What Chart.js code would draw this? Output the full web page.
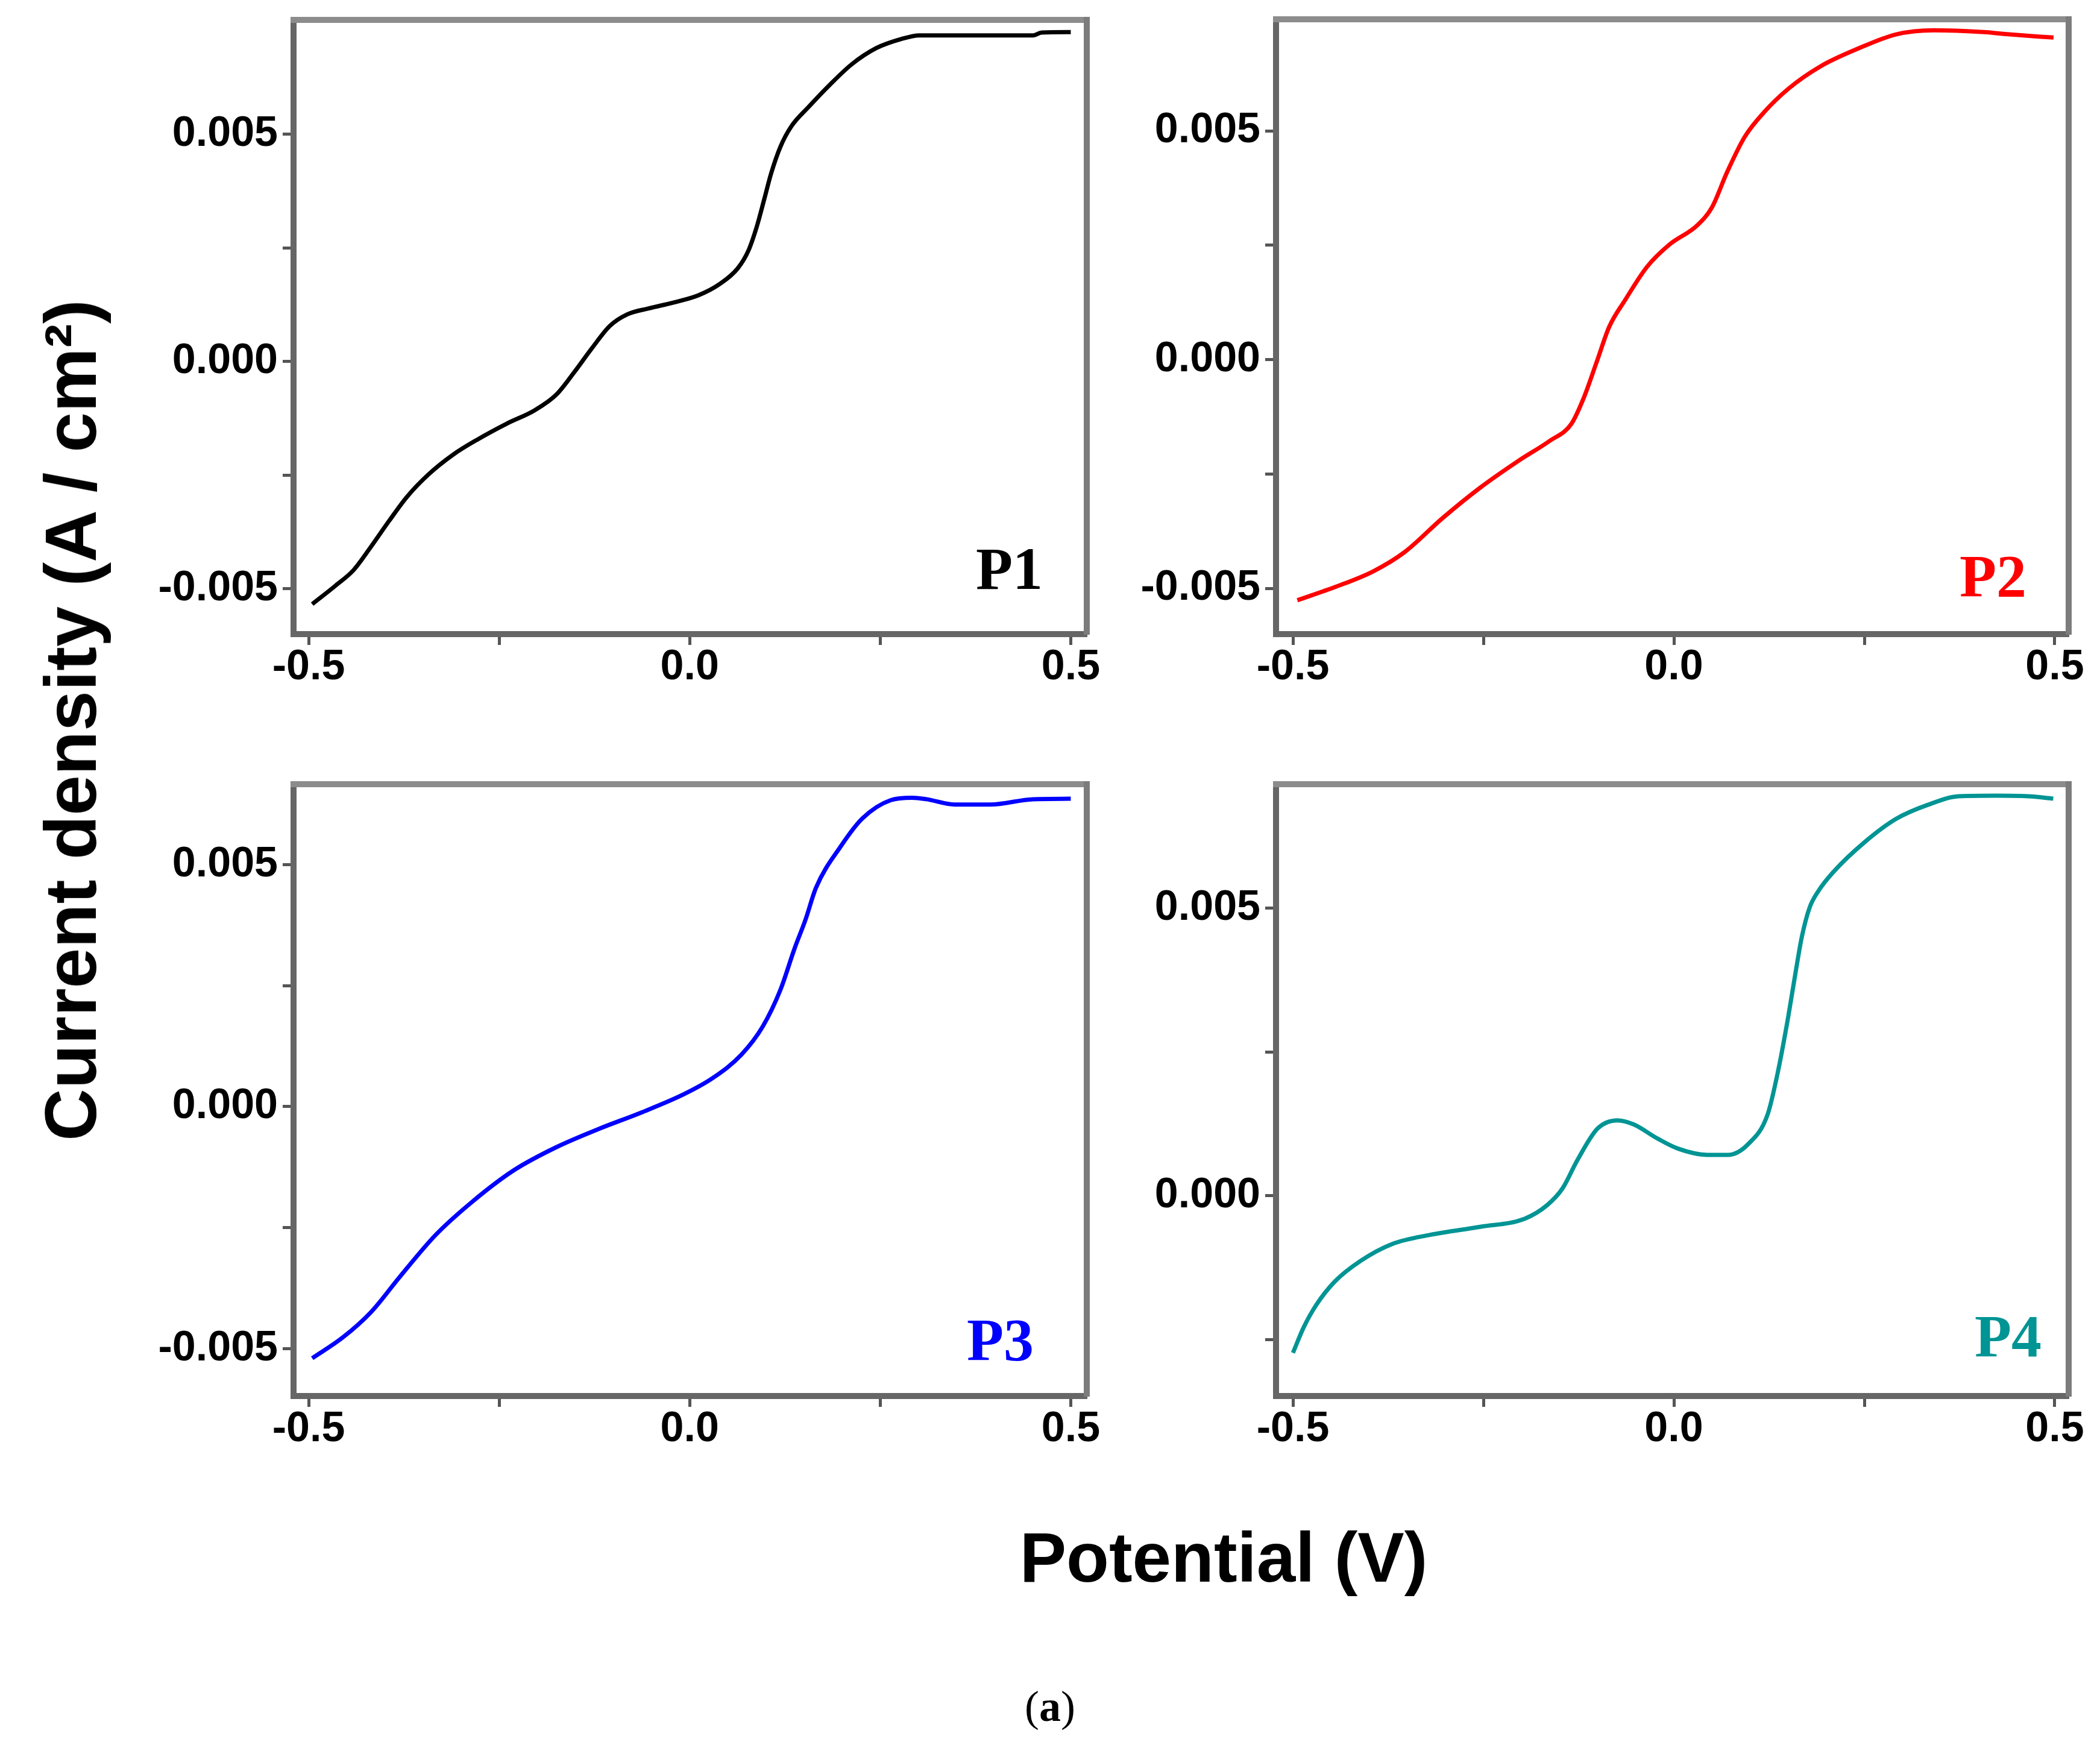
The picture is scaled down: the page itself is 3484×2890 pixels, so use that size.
<!DOCTYPE html>
<html><head><meta charset="utf-8">
<script src="https://cdn.jsdelivr.net/npm/chart.js@4.4.1/dist/chart.umd.min.js"></script>
<style>
html,body{margin:0;padding:0;background:#fff;}
body{width:3484px;height:2890px;position:relative;overflow:hidden;}
canvas{position:absolute;}
.lbl{position:absolute;white-space:nowrap;line-height:1;color:#000;}
</style></head><body>
<div id="wrap"></div>
<div class="lbl" style="font:bold 116px 'Liberation Sans',Arial,sans-serif;left:2030px;top:2584px;transform:translate(-50%,-50%);">Potential (V)</div>
<div class="lbl" style="font:bold 120px 'Liberation Sans',Arial,sans-serif;left:117px;top:1195px;transform:translate(-50%,-50%) rotate(-90deg);">Current density (A / cm²)</div>
<div class="lbl" style="font:72px 'Liberation Serif','Times New Roman',serif;left:1742px;top:2831px;transform:translate(-50%,-50%);">(<b>a</b>)</div>
<script>
// ---- tick values ----
const xTickVals = [-0.5, -0.25, 0, 0.25, 0.5];
const yTickVals = [-0.005, -0.0025, 0, 0.0025, 0.005];
const yTickValsP4 = [-0.0025, 0, 0.0025, 0.005];

// ---- series: potential (V) and current density (A/cm2) ----
const p1V = [-0.4953,-0.4645,-0.441,-0.4179,-0.3945,-0.3711,-0.3431,-0.3105,-0.2778,-0.2404,-0.2031,-0.1751,-0.1517,-0.1284,-0.105,-0.0817,-0.0537,-0.021,0.0117,0.0397,0.063,0.077,0.0882,0.0976,0.107,0.1191,0.1331,0.1564,0.1844,0.2124,0.245,0.2778,0.3011,0.3571,0.4505,0.4617,0.5];
const p1J = [-0.00534,-0.00493,-0.00459,-0.00407,-0.00351,-0.00298,-0.00249,-0.00205,-0.00171,-0.00137,-0.00107,-0.00073,-0.00024,0.00029,0.00078,0.00104,0.00117,0.0013,0.00146,0.00171,0.00205,0.00244,0.00298,0.00356,0.00415,0.00473,0.00517,0.00561,0.0061,0.00654,0.0069,0.0071,0.00718,0.00718,0.00718,0.00724,0.00725];

const p2V = [-0.4942,-0.4446,-0.3949,-0.3536,-0.304,-0.2543,-0.2047,-0.1634,-0.1344,-0.1179,-0.1013,-0.0848,-0.0641,-0.0352,-0.0062,0.031,0.05,0.0699,0.093,0.1179,0.1509,0.1923,0.2419,0.2916,0.3412,0.4074,0.4405,0.4984];
const p2J = [-0.00526,-0.00497,-0.00463,-0.00421,-0.00347,-0.0028,-0.00222,-0.00178,-0.0014,-0.00082,-0.00005,0.00072,0.0013,0.00203,0.00251,0.00294,0.00333,0.0041,0.00487,0.0054,0.00593,0.00641,0.0068,0.00711,0.0072,0.00716,0.00711,0.00704];

const p3V = [-0.4953,-0.4552,-0.4178,-0.3805,-0.3338,-0.2871,-0.2311,-0.1751,-0.119,-0.063,-0.007,0.0303,0.0677,0.0957,0.119,0.1377,0.1517,0.1657,0.1984,0.2264,0.2638,0.2918,0.3105,0.3478,0.3945,0.4505,0.5];
const p3J = [-0.0052,-0.00477,-0.00424,-0.00352,-0.00266,-0.00199,-0.00132,-0.00084,-0.00046,-0.00012,0.00026,0.00059,0.00107,0.00165,0.00241,0.00327,0.00385,0.00452,0.00538,0.00595,0.00633,0.00638,0.00635,0.00624,0.00624,0.00635,0.00636];

const p4V = [-0.5,-0.486,-0.469,-0.445,-0.411,-0.37,-0.32,-0.254,-0.196,-0.166,-0.146,-0.127,-0.1,-0.074,-0.053,-0.021,0.005,0.044,0.071,0.097,0.123,0.137,0.15,0.16,0.168,0.178,0.19,0.209,0.251,0.292,0.333,0.374,0.424,0.465,0.498];
const p4J = [-0.00273,-0.00229,-0.00189,-0.00149,-0.00113,-0.00084,-0.00068,-0.00054,-0.0004,-0.00016,0.00013,0.00061,0.00117,0.00131,0.00124,0.00099,0.00082,0.00071,0.00071,0.00089,0.00141,0.00218,0.0031,0.0039,0.0045,0.0050,0.00530,0.00562,0.00615,0.00655,0.00679,0.00694,0.00695,0.00694,0.0069];

// ---- panel layout ----
const panels = [
  {name:'P1', v:p1V, j:p1J, color:'#000000', box:[487,33,1803,1052], xr:[-0.5198,0.521], yr:[-0.0060,0.00752], yt:yTickVals, lab:[73,75]},
  {name:'P2', v:p2V, j:p2J, color:'#ff0000', box:[2117,32,3432,1052], xr:[-0.5222,0.5182], yr:[-0.0060,0.00744], yt:yTickVals, lab:[70,63]},
  {name:'P3', v:p3V, j:p3J, color:'#0000ff', box:[487,1301,1803,2316], xr:[-0.5198,0.521], yr:[-0.00598,0.00666], yt:yTickVals, lab:[88,60]},
  {name:'P4', v:p4V, j:p4J, color:'#009494', box:[2117,1301,3432,2316], xr:[-0.5222,0.5182], yr:[-0.00348,0.00715], yt:yTickValsP4, lab:[45,66]}
];

const labelPlugin = {
  id:'plab',
  afterDraw(chart, args, o){
    const {ctx, chartArea:a} = chart;
    ctx.save();
    ctx.font = 'bold 100px "Liberation Serif", "Times New Roman", serif';
    ctx.fillStyle = o.color;
    ctx.textAlign = 'right';
    ctx.textBaseline = 'alphabetic';
    ctx.fillText(o.text, a.right - o.dx, a.bottom - o.dy);
    ctx.restore();
  }
};

const padL = 340, padT = 50, padR = 52, padB = 150;
const tickFont = {family:"'Liberation Sans', Arial, sans-serif", weight:'bold', size:70, lineHeight:1};
const gridOpts = {display:true, drawOnChartArea:false, drawTicks:true, tickLength:18, tickWidth:5, tickColor:'#555555', color:'#555555'};
const wrap = document.getElementById('wrap');

panels.forEach(p => {
  const [l,t,r,b] = p.box;
  const W = r - l + padL + padR, H = b - t + padT + padB;
  const c = document.createElement('canvas');
  c.width = W; c.height = H;
  c.style.left = (l - padL) + 'px'; c.style.top = (t - padT) + 'px';
  c.style.width = W + 'px'; c.style.height = H + 'px';
  wrap.appendChild(c);
  new Chart(c, {
    type:'line',
    data:{datasets:[{
      data:p.v.map((x,i)=>({x:x, y:p.j[i]})),
      borderColor:p.color, borderWidth:7, pointRadius:0, fill:false,
      cubicInterpolationMode:'monotone'
    }]},
    options:{
      responsive:false, animation:false, devicePixelRatio:1,
      layout:{padding:{left:0, top:padT, right:padR, bottom:0}},
      plugins:{legend:{display:false}, tooltip:{enabled:false},
        plab:{text:p.name, color:p.color, dx:p.lab[0], dy:p.lab[1]}},
      scales:{
        x:{type:'linear', position:'bottom', min:p.xr[0], max:p.xr[1],
          afterBuildTicks:s=>{ s.ticks = xTickVals.map(v=>({value:v})); },
          afterFit:s=>{ s.height = padB; s.paddingLeft = 0; s.paddingRight = 0; },
          ticks:{callback:v=> Math.abs(v*2 - Math.round(v*2)) < 1e-9 ? Number(v).toFixed(1) : '',
            font:tickFont, color:'#000', padding:3, maxRotation:0, minRotation:0, autoSkip:false},
          grid:gridOpts,
          border:{display:true, color:'#666666', width:10}},
        y:{type:'linear', position:'left', min:p.yr[0], max:p.yr[1],
          afterBuildTicks:s=>{ s.ticks = p.yt.map(v=>({value:v})); },
          afterFit:s=>{ s.width = padL; s.paddingTop = 0; s.paddingBottom = 0; },
          ticks:{callback:v=> Math.abs(v/0.005 - Math.round(v/0.005)) < 1e-6 ? Number(v).toFixed(3) : '',
            font:tickFont, color:'#000', padding:8, autoSkip:false},
          grid:gridOpts,
          border:{display:true, color:'#666666', width:10}},
        xTop:{type:'linear', position:'top', min:p.xr[0], max:p.xr[1],
          ticks:{display:false}, grid:{display:false, drawTicks:false},
          border:{display:true, color:'#8c8c8c', width:10},
          afterFit:s=>{ s.height = 0; s.paddingLeft = 0; s.paddingRight = 0; }},
        yRight:{type:'linear', position:'right', min:p.yr[0], max:p.yr[1],
          ticks:{display:false}, grid:{display:false, drawTicks:false},
          border:{display:true, color:'#7c7c7c', width:10},
          afterFit:s=>{ s.width = 0; s.paddingTop = 0; s.paddingBottom = 0; }}
      }
    },
    plugins:[labelPlugin]
  });
});
</script>
</body></html>
